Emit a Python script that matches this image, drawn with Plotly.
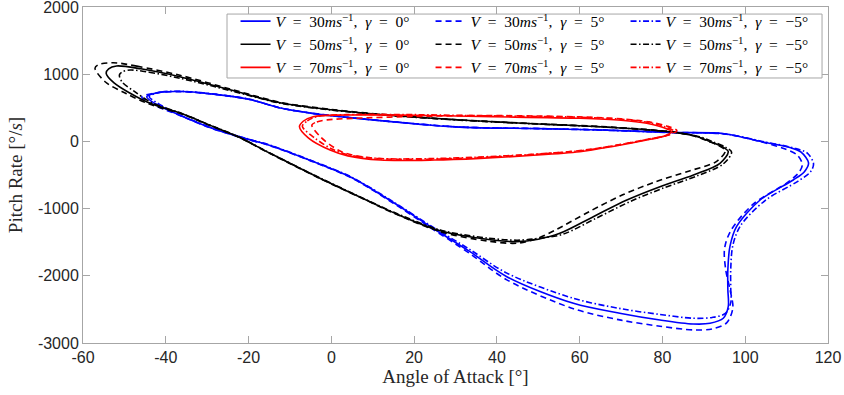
import plotly.graph_objects as go

# Angle of attack [deg] / pitch rate [deg/s] trajectories (closed loops)
v30_g0_x = [-44.6, -41.5, -36.0, -28.0, -20.0, -12.0, -5.0, 1.0, 15.0, 31.0, 50.0, 65.0, 82.0, 95.0, 104.0, 111.0, 113.5, 115.3, 114.3, 111.6, 103.6, 97.9, 96.3, 95.8, 95.8, 95.9, 94.7, 91.5, 87.4, 79.4, 70.0, 58.5, 42.4, 33.5, 24.0, 15.0, 5.0, -5.0, -14.8, -20.0, -28.5, -36.6, -42.5, -44.6]
v30_g0_y = [665, 730, 742, 700, 628, 492, 420, 375, 290, 212, 190, 170, 133, 115, -5, -95, -160, -320, -450, -574, -872, -1269, -1567, -1914, -2200, -2460, -2632, -2707, -2717, -2658, -2560, -2409, -2013, -1641, -1270, -910, -540, -285, -60, 30, 190, 390, 560, 665]

v30_g5_x = [-45.8, -42.5, -36.0, -28.0, -20.0, -12.0, -5.0, 1.0, 15.0, 31.0, 50.0, 65.0, 82.0, 95.0, 103.5, 109.5, 112.5, 113.8, 113.0, 110.0, 102.0, 96.5, 95.0, 95.3, 96.3, 97.0, 95.5, 92.0, 87.5, 79.4, 70.0, 58.5, 42.4, 33.5, 24.0, 15.0, 5.0, -5.0, -14.8, -20.0, -28.5, -36.6, -43.5, -45.8]
v30_g5_y = [660, 720, 740, 698, 628, 492, 422, 378, 292, 214, 192, 172, 135, 110, 0, -110, -200, -340, -460, -620, -930, -1330, -1600, -1914, -2200, -2480, -2700, -2790, -2806, -2750, -2660, -2490, -2060, -1670, -1285, -920, -548, -290, -64, 26, 185, 385, 560, 660]

v30_gm5_x = [-44.0, -41.0, -36.0, -28.0, -20.0, -12.0, -5.0, 1.0, 15.0, 31.0, 50.0, 65.0, 82.0, 95.0, 104.5, 111.5, 115.0, 116.5, 115.8, 112.8, 104.8, 98.8, 97.0, 96.5, 96.5, 96.5, 95.2, 92.0, 87.4, 79.4, 70.0, 58.5, 42.4, 33.5, 24.0, 15.0, 5.0, -5.0, -14.8, -20.0, -28.5, -36.6, -42.0, -44.0]
v30_gm5_y = [668, 735, 745, 703, 630, 494, 422, 378, 292, 214, 190, 168, 132, 112, -5, -95, -175, -330, -450, -590, -880, -1260, -1550, -1900, -2180, -2400, -2560, -2620, -2632, -2575, -2490, -2335, -1960, -1610, -1255, -900, -535, -280, -56, 34, 194, 395, 570, 668]

v50_g0_x = [-51.9, -46.0, -36.6, -24.0, -12.4, 0.0, 15.0, 31.1, 50.0, 65.0, 75.0, 83.4, 88.5, 91.5, 94.5, 95.9, 93.9, 87.5, 79.4, 71.4, 63.3, 55.2, 50.0, 44.8, 38.0, 26.3, 15.0, 9.3, -3.0, -14.8, -22.9, -28.5, -36.0, -43.8, -48.6, -52.5, -54.4, -53.8, -51.9]
v50_g0_y = [1122, 1080, 963, 760, 575, 470, 385, 318, 260, 219, 180, 130, 70, -4, -80, -153, -326, -500, -674, -872, -1120, -1368, -1455, -1492, -1460, -1330, -1060, -897, -540, -177, 80, 219, 410, 567, 716, 870, 1013, 1080, 1122]

v50_g5_x = [-52.7, -47.0, -36.6, -24.0, -12.4, 0.0, 15.0, 31.1, 50.0, 65.0, 75.0, 83.4, 88.0, 91.0, 93.8, 95.2, 93.0, 86.5, 78.4, 70.4, 62.3, 54.4, 49.5, 44.8, 38.0, 26.3, 15.0, 9.3, -3.0, -14.8, -22.9, -28.5, -36.0, -44.0, -49.5, -54.5, -57.1, -56.3, -52.7]
v50_g5_y = [1171, 1120, 985, 772, 582, 475, 388, 320, 262, 221, 182, 132, 75, 5, -70, -140, -300, -440, -600, -795, -1045, -1310, -1450, -1515, -1485, -1342, -1065, -900, -545, -180, 78, 215, 405, 555, 710, 880, 1088, 1140, 1171]

v50_gm5_x = [-48.6, -44.0, -36.6, -24.0, -12.4, 0.0, 15.0, 31.1, 50.0, 65.0, 75.0, 83.4, 89.0, 92.3, 95.3, 96.7, 94.7, 88.3, 80.2, 72.2, 64.1, 56.0, 50.5, 45.0, 38.0, 26.3, 15.0, 9.3, -3.0, -14.8, -22.9, -28.5, -36.0, -43.5, -47.5, -50.5, -51.2, -50.5, -48.6]
v50_gm5_y = [1062, 1030, 940, 750, 570, 466, 382, 316, 258, 217, 178, 130, 68, -8, -88, -160, -335, -515, -695, -895, -1140, -1380, -1440, -1470, -1440, -1318, -1052, -892, -536, -174, 82, 222, 412, 580, 740, 880, 988, 1035, 1062]

v70_g0_x = [-7.7, -6.8, -4.4, 3.7, 20.0, 35.9, 60.0, 70.0, 76.2, 80.0, 82.2, 80.5, 76.2, 68.0, 60.0, 48.0, 35.9, 25.0, 11.8, 4.0, -0.3, -5.5, -7.7]
v70_g0_y = [219, 300, 368, 393, 390, 370, 344, 315, 269, 210, 145, 80, 21, -75, -153, -210, -252, -277, -277, -215, -128, 50, 219]

v70_g5_x = [-4.7, -3.5, -1.0, 6.0, 20.0, 35.9, 60.0, 70.0, 76.8, 81.0, 83.5, 81.5, 77.0, 69.0, 61.0, 49.0, 36.5, 26.0, 13.0, 6.0, 2.0, -2.5, -4.7]
v70_g5_y = [244, 290, 320, 345, 370, 385, 365, 335, 290, 230, 160, 95, 40, -55, -130, -195, -238, -262, -262, -215, -140, 60, 244]

v70_gm5_x = [-7.0, -5.8, -3.5, 3.7, 20.0, 35.9, 60.0, 70.0, 76.5, 80.5, 82.8, 81.0, 76.5, 68.5, 60.5, 48.5, 36.0, 25.0, 12.0, 4.5, 0.3, -4.0, -7.0]
v70_gm5_y = [225, 305, 370, 398, 398, 382, 360, 330, 283, 220, 150, 88, 30, -62, -138, -192, -232, -255, -255, -205, -118, 50, 225]

speeds = [30, 50, 70]
gammas = ["0", "5", "\u22125"]

x_ticks = [-60, -40, -20, 0, 20, 40, 60, 80, 100, 120]
y_ticks = [-3000, -2000, -1000, 0, 1000, 2000]

series = [
    (v30_g0_x, v30_g0_y), (v30_g5_x, v30_g5_y), (v30_gm5_x, v30_gm5_y),
    (v50_g0_x, v50_g0_y), (v50_g5_x, v50_g5_y), (v50_gm5_x, v50_gm5_y),
    (v70_g0_x, v70_g0_y), (v70_g5_x, v70_g5_y), (v70_gm5_x, v70_gm5_y),
]

colors = {30: "#0000ff", 50: "#000000", 70: "#ff0000"}
dashes = ["solid", "6px,4px", "6px,2.5px,1.5px,2.5px"]

SP = "\u2002"  # wider math-style spacing around relations

fig = go.Figure()
k = 0
for v in speeds:
    for j, g in enumerate(gammas):
        xs, ys = series[k]
        k += 1
        name = (f"<i>V</i>{SP}={SP}{v}<i>ms</i><sup>\u22121</sup>,{SP}"
                f"<i>\u03b3</i>{SP}={SP}{g}\u00b0")
        fig.add_trace(go.Scatter(
            x=xs, y=ys, mode="lines", name=name,
            line=dict(color=colors[v], width=1.6, dash=dashes[j], shape="spline", smoothing=0.9),
        ))

axis_common = dict(
    showgrid=False, zeroline=False, showline=True, linecolor="#a6a6a6", linewidth=1,
    mirror="ticks", ticks="inside", ticklen=7, tickcolor="#a6a6a6",
    ticklabeloverflow="allow", automargin=False,
    tickfont=dict(family="Liberation Sans, Arial, sans-serif", size=16, color="#262626"),
)

title_font = dict(family="Liberation Serif, serif", size=19, color="#262626")

# legend frame (white panel with grey border) behind the legend entries
fig.add_shape(type="rect", xref="paper", yref="paper",
              x0=0.1933, x1=0.992, y0=0.7887, y1=0.979,
              fillcolor="white", line=dict(color="#a6a6a6", width=1), layer="above")

fig.update_layout(
    width=844, height=395,
    margin=dict(l=83, r=16, t=7, b=52, autoexpand=False),
    paper_bgcolor="white", plot_bgcolor="white",
    xaxis=dict(range=[-60, 120], tickvals=x_ticks, ticktext=[str(t) for t in x_ticks],
               title=dict(text="Angle of Attack [\u00b0]", standoff=4, font=title_font),
               **axis_common),
    yaxis=dict(range=[-3000, 2000], tickvals=y_ticks, ticktext=[str(t) for t in y_ticks],
               title=dict(text="Pitch Rate [\u00b0/<i>s</i>]", standoff=10, font=title_font),
               **axis_common),
    legend=dict(
        orientation="h", x=0.99, y=1.0074, xanchor="right", yanchor="top",
        bgcolor="rgba(0,0,0,0)", borderwidth=0,
        font=dict(family="Liberation Serif, serif", size=15.5, color="#000000"),
        entrywidth=150, entrywidthmode="pixels", itemwidth=30,
        tracegroupgap=0,
    ),
    showlegend=True,
)

fig.write_html("out.html")
